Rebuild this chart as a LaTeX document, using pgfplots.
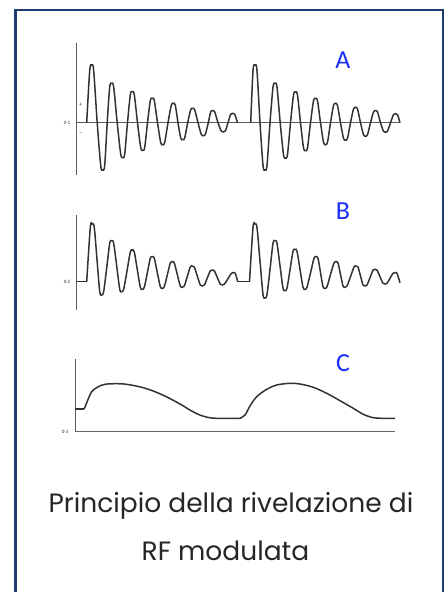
\documentclass[border=0pt]{standalone}
\usepackage{pgfplots}
\pgfplotsset{compat=1.18}
\usepackage{fontspec}
\setmainfont{Carlito}
\newfontfamily\gothic{Poppins}
\definecolor{frame}{RGB}{30,60,112}
\definecolor{lab}{RGB}{25,45,250}
\definecolor{ink}{RGB}{50,50,50}
\begin{document}
\begin{tikzpicture}
\begin{axis}[at={(0,0)}, anchor=south west, width=446pt, height=592pt, scale only axis, hide axis,
  xmin=0, xmax=446, ymin=0, ymax=592, y dir=reverse, clip=true]
% frame
\draw[line width=2.2pt, frame] (axis cs:15.5,10) rectangle (axis cs:442.7,605);
% ---------- panel A ----------
\addplot[ink!80, line width=1pt] coordinates {(76.3,43) (76.3,175)};
\addplot[ink!80, line width=0.9pt] coordinates {(76,122.7) (400,122.7)};
\addplot[ink, line width=1.5pt, smooth, tension=0.5] coordinates {
(86.7,122.7)
(89.7,70.8) (91.7,65) (93.7,70.8) (97.2,122.7)
(100.7,165.3) (102.7,170) (104.7,165.3) (107.2,122.7)
(109.7,87.2) (111.7,83.3) (113.7,87.2) (117.2,122.7)
(120.7,154) (122.7,157.5) (124.7,154) (127.5,122.7)
(130.3,94.8) (132.3,91.7) (134.3,94.8) (137.5,122.7)
(140.7,147.5) (142.7,150.3) (144.7,147.5) (147.5,122.7)
(150.3,100.7) (152.3,98.3) (154.3,100.7) (157.5,122.7)
(160.7,142.5) (162.7,144.7) (164.7,142.5) (168,122.7)
(171.3,105.2) (173.3,103.3) (175.3,105.2) (178,122.7)
(180.7,138) (182.7,139.7) (184.7,138) (187.7,122.7)
(190.7,109.7) (192.7,108.3) (194.7,109.7) (198,122.7)
(201.3,134.4) (203.3,135.7) (205.3,134.4) (208.3,122.7)
(210.7,111.9) (212.7,110.7) (214.7,111.9) (218,122.7)
(221.3,131.1) (223.3,132) (225.3,131.1) (228,122.7)
(230.7,114.2) (232.7,113.3) (234.7,114.2) (237.5,122.7)};
\addplot[ink, line width=1.5pt, smooth, tension=0.5] coordinates {
(250.7,122.7)
(253,70.8) (255,65) (257,70.8) (260,122.7)
(263,165.3) (265,170) (267,165.3) (270,122.7)
(273,87.2) (275,83.3) (277,87.2) (280.2,122.7)
(283.5,154.5) (285.5,158) (287.5,154.5) (290.5,122.7)
(293.5,95.1) (295.5,92) (297.5,95.1) (300.5,122.7)
(303.5,147.7) (305.5,150.5) (307.5,147.7) (310.5,122.7)
(313.5,100.9) (315.5,98.5) (317.5,100.9) (320.5,122.7)
(323.5,142.3) (325.5,144.5) (327.5,142.3) (330.5,122.7)
(333.5,105.4) (335.5,103.5) (337.5,105.4) (340.5,122.7)
(343.5,138.3) (345.5,140) (347.5,138.3) (350.5,122.7)
(353.5,109) (355.5,107.5) (357.5,109) (360.5,122.7)
(363.5,134.7) (365.5,136) (367.5,134.7) (370.5,122.7)
(373.5,111.9) (375.5,110.7) (377.5,111.9) (380.5,122.7)
(383.5,131.3) (385.5,132.3) (387.5,131.3) (390.5,122.7)
(393.5,114.6) (395.5,113.7) (397.5,114.6) (400,122.7)};
\node[font=\fontsize{5}{6}\selectfont, text=ink] at (axis cs:67,123) {0·1};
\node[font=\fontsize{6}{6}\selectfont, text=ink] at (axis cs:80.5,105) {+};
\node[font=\fontsize{6}{6}\selectfont, text=ink] at (axis cs:80.5,134) {--};
\node[font=\fontsize{26}{30}\selectfont, text=lab] at (axis cs:343,60) {A};
% ---------- panel B ----------
\addplot[ink!80, line width=1pt] coordinates {(76.5,215) (76.5,310)};
\addplot[ink, line width=1.5pt] coordinates {(76.5,281.7) (86.7,281.7)};
\addplot[ink, line width=1.5pt, smooth, tension=0.5] coordinates {
(86.7,281.7)
(90.3,227.6) (92.3,224) (94.3,227.6) (97,259.5)
(99.7,291.4) (101.7,295) (103.7,291.4) (106.7,268)
(109.7,243.3) (111.7,240.7) (113.7,243.3) (116.7,266)
(119.7,289.1) (121.7,291.7) (123.7,289.1) (127,271)
(130.3,252) (132.3,250) (134.3,252) (137.3,269.5)
(140.3,287.3) (142.3,289.3) (144.3,287.3) (147.3,273)
(150.3,258.3) (152.3,256.7) (154.3,258.3) (157.3,272.5)
(160.3,286.7) (162.3,288.3) (164.3,286.7) (167.3,275)
(170.3,263) (172.3,261.7) (174.3,263) (177.3,274.5)
(180.3,286) (182.3,287.3) (184.3,286) (187.3,276.5)
(190.3,267) (192.3,266) (194.3,267) (197.3,276)
(200.3,285) (202.3,286) (204.3,285) (207.3,278)
(210.3,270.8) (212.3,270) (214.3,270.8) (217.3,277.5)
(220.3,284.2) (222.3,285) (224.3,284.2) (227.8,279)
(231.3,273.3) (233.3,272.7) (235.3,273.3) (237.7,281.7)};
\addplot[ink, line width=1.5pt] coordinates {(237.7,281.7) (249.5,281.7)};
\addplot[ink, line width=1.5pt, smooth, tension=0.5] coordinates {
(249.5,281.7)
(253,227.6) (255,224) (257,227.6) (260,261)
(263,294.4) (265,298) (267,294.4) (270,269.5)
(273,243.3) (275,240.7) (277,243.3) (280,265.7)
(283,288.1) (285,290.7) (287,288.1) (290,270)
(293,251.3) (295,249.3) (297,251.3) (300,269.3)
(303,287.3) (305,289.3) (307,287.3) (310.5,273)
(314,258.3) (316,256.7) (318,258.3) (320.5,272.5)
(323,286.7) (325,288.3) (327,286.7) (330.5,274.5)
(334,263) (336,261.7) (338,263) (340.5,274.5)
(343,286) (345,287.3) (347,286) (350.5,276.7)
(354,267) (356,266) (358,267) (360.5,276)
(363,285) (365,286) (367,285) (370,277.7)
(373,270.1) (375,269.3) (377,270.1) (380,276.7)
(383,283.3) (385,284) (387,283.3) (390,278.3)
(393,273.3) (395,272.7) (397,273.3) (400,282.7)};
\node[font=\fontsize{5}{6}\selectfont, text=ink] at (axis cs:67,281.5) {0·2};
\node[font=\fontsize{26}{30}\selectfont, text=lab] at (axis cs:343,211) {B};
% ---------- panel C ----------
\addplot[ink!80, line width=1pt] coordinates {(75,359) (75,432)};
\addplot[ink!75, line width=1pt] coordinates {(75,431.7) (395,431.7)};
\addplot[ink, line width=1.5pt] coordinates {(75,409) (84.3,409)};
\addplot[ink, line width=1.5pt, smooth, tension=0.55] coordinates {
(84.3,409) (86.7,402.7) (91.7,391.7) (98.3,386.7) (105,384.3) (115,383.7) (126.7,384.3)
(141.7,387.3) (155,391.7) (168.3,397.7) (181.7,405) (191.7,411) (201.7,415.7)
(211.7,418) (221.7,418.3) (240,418.3)};
\addplot[ink, line width=1.5pt, smooth, tension=0.55] coordinates {
(240,418.3) (245,415) (250,406) (256.7,396.7) (266.7,389.3) (276.7,385) (290,383.3)
(300,384) (313.3,387.3) (326.7,393.3) (340,400.7) (353.3,408.3) (363.3,414.3)
(373.3,417.7) (383.3,418.3) (395,418.3)};
\node[font=\fontsize{5}{6}\selectfont, text=ink] at (axis cs:65,431.5) {0·3};
\node[font=\fontsize{26}{30}\selectfont, text=lab] at (axis cs:343,363) {C};
% ---------- caption ----------
\node[anchor=base, font=\gothic\fontsize{26.5}{30}\selectfont, text=black!85] at (axis cs:231,512) {Principio della rivelazione di};
\node[anchor=base, font=\gothic\fontsize{26.5}{30}\selectfont, text=black!85] at (axis cs:225.5,560) {RF modulata};
\end{axis}
\pgfresetboundingbox
\path (0,0) rectangle (446pt,592pt);
\end{tikzpicture}
\end{document}
